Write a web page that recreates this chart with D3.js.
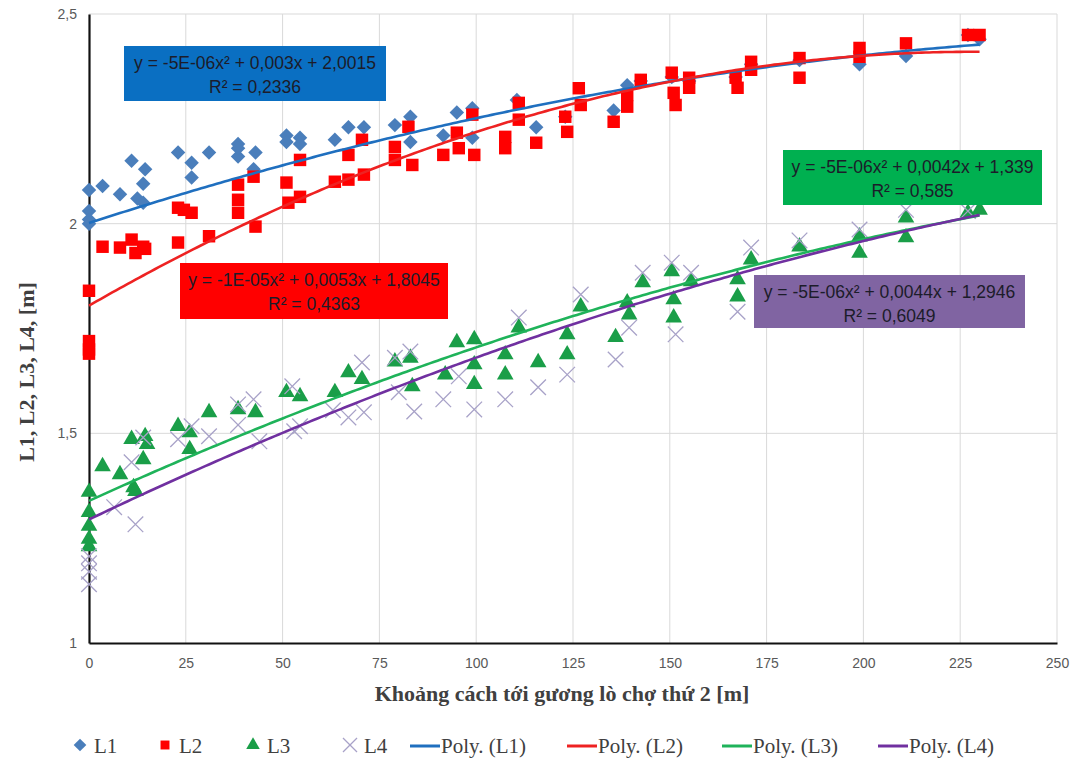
<!DOCTYPE html>
<html>
<head>
<meta charset="utf-8">
<script src="https://cdn.jsdelivr.net/npm/d3@7"></script>
<style>
  body { margin: 0; background: #fff; }
</style>
</head>
<body>
<div id="chart"></div>
<script>
// measured points [khoảng cách, giá trị]
const l1 = [[0,2.08],[0,2.03],[0,2.01],[0,2.0],[3.5,2.09],[8,2.07],[11,2.15],[12.5,2.06],[14,2.05],[14,2.095],[14.5,2.13],
  [23,2.17],[26.5,2.145],[26.5,2.11],[31,2.17],[38.5,2.19],[38.5,2.16],[38.5,2.18],[42.5,2.13],[43,2.17],[51,2.21],[51,2.195],
  [54.5,2.205],[54.5,2.19],[63.5,2.2],[67,2.23],[71,2.23],[79,2.235],[83,2.255],[83,2.195],[91.5,2.21],[95,2.265],[99,2.275],
  [99,2.205],[110.5,2.295],[115.5,2.23],[123,2.255],[135.5,2.27],[139,2.33],[142.5,2.34],[150.5,2.35],[155,2.34],[167,2.35],
  [171,2.38],[183.5,2.39],[199,2.38],[211,2.40],[227,2.45],[230,2.44]];
const l2 = [[0,1.84],[0,1.72],[0,1.70],[0,1.69],[3.5,1.945],[8,1.943],[11,1.962],[12,1.93],[14,1.945],[14.5,1.94],[23,2.038],
  [23,1.955],[24.5,2.033],[26.5,2.026],[31,1.97],[38.5,2.093],[38.5,2.057],[38.5,2.026],[42.5,2.112],[43,1.993],[51,2.098],
  [51.5,2.05],[54.5,2.152],[54.5,2.064],[63.5,2.1],[67,2.105],[67,2.164],[71,2.117],[70.5,2.2],[79,2.183],[79,2.152],
  [82.5,2.231],[83.5,2.14],[91.5,2.164],[95,2.217],[95.5,2.18],[99,2.26],[99.5,2.164],[107.5,2.207],[107.5,2.18],[111,2.288],
  [111,2.248],[115.5,2.193],[123,2.255],[123.5,2.219],[126.5,2.323],[127,2.283],[135.5,2.243],[139,2.307],[139,2.279],
  [142.5,2.343],[150.5,2.36],[151,2.312],[151.5,2.283],[155,2.348],[155,2.324],[167,2.348],[167.5,2.324],[171,2.386],
  [171,2.367],[183.5,2.395],[183.5,2.348],[199,2.419],[199,2.398],[211,2.43],[227,2.45],[230,2.45]];
const l3 = [[0,1.36],[0,1.312],[0,1.279],[0,1.248],[0,1.23],[3.5,1.421],[8,1.402],[11,1.486],[11.5,1.371],[12,1.362],
  [14,1.438],[14.5,1.493],[15,1.474],[23,1.517],[26,1.502],[26,1.462],[31,1.55],[38.5,1.557],[43,1.55],[51,1.598],
  [54.5,1.588],[63.5,1.598],[67,1.645],[70.5,1.629],[79,1.671],[83,1.68],[83.5,1.612],[92,1.64],[95,1.717],[99.5,1.724],
  [99.5,1.664],[99.5,1.617],[107.5,1.688],[107.5,1.64],[111,1.752],[116,1.669],[123.5,1.736],[123.5,1.688],[127,1.802],
  [136,1.729],[139,1.812],[139.5,1.783],[143,1.86],[150.5,1.886],[151,1.819],[151,1.776],[155.5,1.862],[167.5,1.867],
  [167.5,1.826],[171,1.914],[183.5,1.945],[199,1.969],[199,1.93],[211,2.014],[211,1.967],[227,2.026],[230,2.033]];
const l4 = [[0,1.207],[0,1.19],[0,1.17],[0,1.14],[6.5,1.324],[11,1.431],[12,1.283],[14,1.49],[23,1.486],[26.5,1.517],
  [31,1.493],[38.5,1.569],[38.5,1.52],[42.5,1.581],[44,1.481],[52.5,1.612],[54.5,1.517],[53,1.505],[63,1.555],[67,1.538],
  [70.5,1.669],[71,1.55],[79,1.68],[83,1.695],[80,1.598],[84,1.552],[91.5,1.581],[95.5,1.636],[99.5,1.557],[107.5,1.581],
  [111,1.776],[116,1.61],[123.5,1.64],[127,1.831],[136,1.676],[139.5,1.752],[143,1.883],[150.5,1.907],[151.5,1.736],
  [155.5,1.883],[167.5,1.79],[171,1.943],[183.5,1.96],[199,1.986],[211,2.033],[227,2.03]];

// polynomial trend coefficients [a, b, c] for y = a x^2 + b x + c
const poly1 = [-5e-6, 0.003, 2.0015];
const poly2 = [-1.16e-5, 0.0053, 1.8045];
const poly3 = [-5.4e-6, 0.0042, 1.339];
const poly4 = [-5.4e-6, 0.0044, 1.2946];

const seriesNames = ["L1", "L2", "L3", "L4"];
const trendNames = ["Poly. (L1)", "Poly. (L2)", "Poly. (L3)", "Poly. (L4)"];
const eqLabels = [
  ["y = -5E-06x² + 0,003x + 2,0015", "R² = 0,2336"],
  ["y = -1E-05x² + 0,0053x + 1,8045", "R² = 0,4363"],
  ["y = -5E-06x² + 0,0042x + 1,339", "R² = 0,585"],
  ["y = -5E-06x² + 0,0044x + 1,2946", "R² = 0,6049"]
];
const xTicks = [0, 25, 50, 75, 100, 125, 150, 175, 200, 225, 250];
const yTicks = [1, 1.5, 2, 2.5];
const xTitle = "Khoảng cách tới gương lò chợ thứ 2 [m]";
const yTitle = "L1, L2, L3, L4, [m]";

const width = 1083, height = 776;
const margin = {top: 14, right: 25, bottom: 133, left: 89};

const markerColor = ["#4a7ebb", "#ff0000", "#1a9e48", "#a8a2c8"];
const lineColor = ["#1f6fbf", "#ee2222", "#1fb35a", "#7030a0"];
const boxColor = ["#0a6fc2", "#ff0000", "#00b050", "#8064a2"];
// box placement in pixels: left, top, w, h
const boxPos = [[124, 46, 262, 55], [180, 263, 268, 56], [783, 150, 259, 55], [754, 275, 271, 53]];

const locale = d3.formatLocale({decimal: ",", thousands: ".", grouping: [3], currency: ["", ""]});
const fmt = locale.format("~g");

const svg = d3.select("#chart")
  .append("svg")
  .attr("width", width)
  .attr("height", height);

const x = d3.scaleLinear().domain([0, 250]).range([margin.left, width - margin.right - 1]);
const y = d3.scaleLinear().domain([1, 2.5]).range([height - margin.bottom, margin.top]);

// grid
svg.append("g").selectAll("line").data(xTicks.slice(1)).join("line")
  .attr("x1", d => x(d)).attr("x2", d => x(d))
  .attr("y1", y(1)).attr("y2", y(2.5))
  .attr("stroke", "#d9d9d9").attr("stroke-width", 1);
svg.append("g").selectAll("line").data(yTicks.slice(1)).join("line")
  .attr("x1", x(0)).attr("x2", x(250))
  .attr("y1", d => y(d)).attr("y2", d => y(d))
  .attr("stroke", "#d9d9d9").attr("stroke-width", 1);

function xAxis(g) {
  g.attr("transform", `translate(0, ${y(1)})`)
    .call(d3.axisBottom(x).tickValues(xTicks).tickFormat(fmt).tickSize(0).tickPadding(15))
    .attr("font-size", "14px")
    .attr("font-family", "Liberation Sans, Arial, sans-serif");
  g.select(".domain").attr("stroke", "#111").attr("stroke-width", 2.2);
  g.selectAll("text").attr("fill", "#595959");
}

function yAxis(g) {
  g.attr("transform", `translate(${x(0)}, 0)`)
    .call(d3.axisLeft(y).tickValues(yTicks).tickFormat(fmt).tickSize(0).tickPadding(12))
    .attr("font-size", "14px")
    .attr("font-family", "Liberation Sans, Arial, sans-serif");
  g.select(".domain").attr("stroke", "#111").attr("stroke-width", 2.2);
  g.selectAll("text").attr("fill", "#595959");
}

svg.append("g").call(xAxis);
svg.append("g").call(yAxis);

// markers
const symbols = [
  d3.symbol().type(d3.symbolSquare).size(105),
  d3.symbol().type(d3.symbolSquare).size(155),
  d3.symbol().type(d3.symbolTriangle).size(120),
  d3.symbol().type(d3.symbolTimes).size(160)
];
const rot = [45, 0, 0, 0];

[l1, l2, l3, l4].forEach(function (pts, i) {
  const g = svg.append("g");
  g.selectAll("path").data(pts).join("path")
    .attr("d", symbols[i])
    .attr("transform", d => `translate(${x(d[0])},${y(d[1])}) rotate(${rot[i]})`)
    .attr("fill", i === 3 ? "none" : markerColor[i])
    .attr("stroke", i === 3 ? markerColor[i] : "none")
    .attr("stroke-width", i === 3 ? 1.3 : 0);
});

// trend lines
const trendX = d3.range(0, 230.5, 1);
const line = d3.line().x(d => x(d[0])).y(d => y(d[1]));
[poly1, poly2, poly3, poly4].forEach(function (c, i) {
  svg.append("path")
    .datum(trendX.map(v => [v, c[0] * v * v + c[1] * v + c[2]]))
    .attr("fill", "none")
    .attr("stroke", lineColor[i])
    .attr("stroke-width", 2.6)
    .attr("d", line);
});

// equation boxes
eqLabels.forEach(function (lbl, i) {
  const p = boxPos[i];
  const g = svg.append("g").attr("transform", `translate(${p[0]},${p[1]})`);
  g.append("rect").attr("width", p[2]).attr("height", p[3]).attr("fill", boxColor[i]);
  g.selectAll("text").data(lbl).join("text")
    .attr("x", p[2] / 2)
    .attr("y", (d, j) => 23 + j * 24)
    .attr("text-anchor", "middle")
    .attr("font-family", "Liberation Sans, Arial, sans-serif")
    .attr("font-size", "17.5px")
    .attr("fill", "#1c1c2a")
    .text(d => d);
});

// titles
svg.append("text")
  .attr("x", 562)
  .attr("y", 701)
  .attr("text-anchor", "middle")
  .attr("font-family", "Liberation Serif, Times New Roman, serif")
  .attr("font-weight", "bold")
  .attr("font-size", "22px")
  .attr("fill", "#404040")
  .text(xTitle);

svg.append("text")
  .attr("transform", `translate(34, 372) rotate(-90)`)
  .attr("text-anchor", "middle")
  .attr("font-family", "Liberation Serif, Times New Roman, serif")
  .attr("font-weight", "bold")
  .attr("font-size", "22px")
  .attr("fill", "#404040")
  .text(yTitle);

// legend
const legY = 746;
const legMarkX = [80, 165, 253, 350];
const legLineX = [410, 567, 722, 878];
const legend = svg.append("g")
  .attr("font-family", "Liberation Serif, Times New Roman, serif")
  .attr("font-size", "21px")
  .attr("fill", "#404040");

seriesNames.forEach(function (name, i) {
  legend.append("path")
    .attr("d", symbols[i].size(i === 3 ? 130 : 80)())
    .attr("transform", `translate(${legMarkX[i]},${legY - 1}) rotate(${rot[i]})`)
    .attr("fill", i === 3 ? "none" : markerColor[i])
    .attr("stroke", i === 3 ? markerColor[i] : "none")
    .attr("stroke-width", 1.3);
  legend.append("text")
    .attr("x", legMarkX[i] + 14)
    .attr("y", legY + 7)
    .text(name);
});

trendNames.forEach(function (name, i) {
  legend.append("line")
    .attr("x1", legLineX[i]).attr("x2", legLineX[i] + 30)
    .attr("y1", legY).attr("y2", legY)
    .attr("stroke", lineColor[i]).attr("stroke-width", 3);
  legend.append("text")
    .attr("x", legLineX[i] + 31)
    .attr("y", legY + 7)
    .text(name);
});
</script>
</body>
</html>
